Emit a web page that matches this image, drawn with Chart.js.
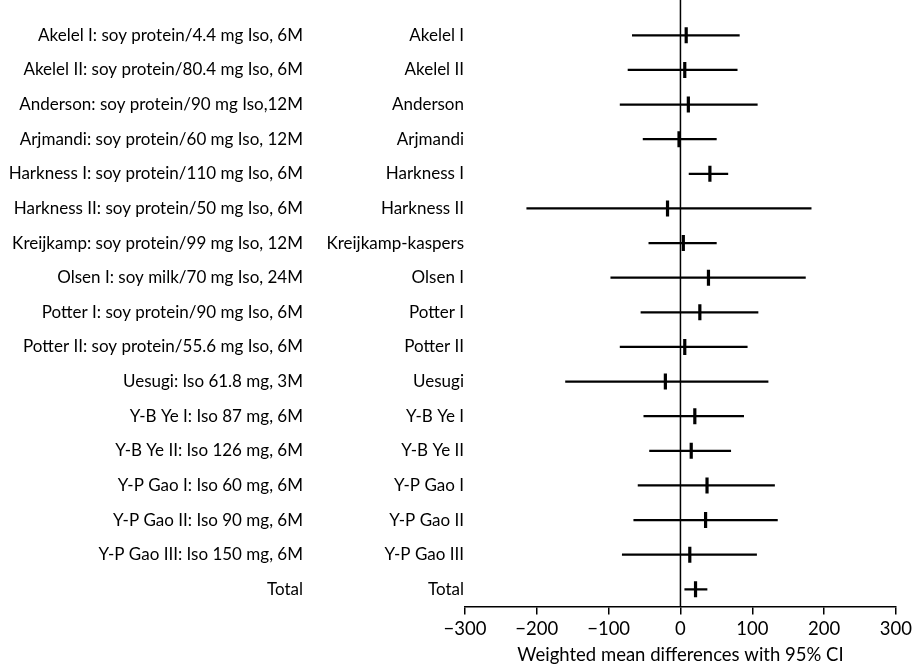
<!DOCTYPE html>
<html>
<head>
<meta charset="utf-8">
<script src="https://cdn.jsdelivr.net/npm/chart.js@4.4.1/dist/chart.umd.min.js"></script>
<style>
  html, body { margin: 0; padding: 0; background: #ffffff; }
  #wrap { width: 915px; height: 672px; position: relative; }
</style>
</head>
<body>
<div id="wrap"><canvas id="c" width="915" height="672"></canvas></div>
<script>
const studies = ["Akelel I", "Akelel II", "Anderson", "Arjmandi", "Harkness I", "Harkness II",
  "Kreijkamp-kaspers", "Olsen I", "Potter I", "Potter II", "Uesugi", "Y-B Ye I", "Y-B Ye II",
  "Y-P Gao I", "Y-P Gao II", "Y-P Gao III", "Total"];
const descriptions = ["Akelel I: soy protein/4.4 mg Iso, 6M", "Akelel II: soy protein/80.4 mg Iso, 6M",
  "Anderson: soy protein/90 mg Iso,12M", "Arjmandi: soy protein/60 mg Iso, 12M",
  "Harkness I: soy protein/110 mg Iso, 6M", "Harkness II: soy protein/50 mg Iso, 6M",
  "Kreijkamp: soy protein/99 mg Iso, 12M", "Olsen I: soy milk/70 mg Iso, 24M",
  "Potter I: soy protein/90 mg Iso, 6M", "Potter II: soy protein/55.6 mg Iso, 6M",
  "Uesugi: Iso 61.8 mg, 3M", "Y-B Ye I: Iso 87 mg, 6M", "Y-B Ye II: Iso 126 mg, 6M",
  "Y-P Gao I: Iso 60 mg, 6M", "Y-P Gao II: Iso 90 mg, 6M", "Y-P Gao III: Iso 150 mg, 6M", "Total"];
const ciLow  = [-67, -73, -84, -52, 12, -214, -44, -97, -55, -84, -160, -51, -43, -59, -65, -81, 6];
const estimate = [8, 6, 11, -2, 41, -18, 4, 39, 27, 6, -21, 20, 15, 37, 35, 13, 21];
const ciHigh = [82, 79, 107, 50, 66, 182, 50, 174, 108, 93, 122, 88, 70, 131, 135, 106, 37];
const xTicks = [-300, -200, -100, 0, 100, 200, 300];
const xTitle = "Weighted mean differences with 95% CI";

const FONT = "Lato";

const zeroLine = {
  id: 'zeroLine',
  beforeDatasetsDraw(chart) {
    const x = chart.scales.x.getPixelForValue(0);
    const ctx = chart.ctx;
    ctx.save();
    ctx.strokeStyle = '#000';
    ctx.lineWidth = 1.5;
    ctx.beginPath();
    ctx.moveTo(x, 0);
    ctx.lineTo(x, chart.chartArea.bottom);
    ctx.stroke();
    ctx.restore();
  }
};

new Chart(document.getElementById('c'), {
  type: 'bar',
  data: {
    labels: studies,
    datasets: [
      {
        type: 'bar',
        data: studies.map((s, i) => [ciLow[i], ciHigh[i]]),
        backgroundColor: '#000',
        borderWidth: 0,
        barThickness: 1.6,
        xAxisID: 'x',
        yAxisID: 'y'
      },
      {
        type: 'scatter',
        data: studies.map((s, i) => ({ x: estimate[i], y: s })),
        pointStyle: 'line',
        rotation: 90,
        radius: 8,
        borderWidth: 3.2,
        borderColor: '#000',
        backgroundColor: '#000',
        xAxisID: 'x',
        yAxisID: 'y'
      }
    ]
  },
  options: {
    indexAxis: 'y',
    responsive: false,
    animation: false,
    layout: { padding: { top: 18, right: 18, bottom: 0, left: 0 } },
    plugins: { legend: { display: false }, tooltip: { enabled: false } },
    scales: {
      x: {
        type: 'linear',
        min: -300,
        max: 300,
        afterBuildTicks(scale) { scale.ticks = xTicks.map(v => ({ value: v })); },
        border: { display: true, color: '#000', width: 1.5 },
        grid: { display: true, drawOnChartArea: false, drawTicks: true, tickLength: 8, color: '#000', lineWidth: 1.5 },
        ticks: {
          color: '#000',
          padding: 3,
          font: { family: FONT, size: 18.5 },
          maxRotation: 0,
          callback: v => String(v).replace('-', '\u2212')
        },
        title: {
          display: true,
          text: xTitle,
          color: '#000',
          font: { family: FONT, size: 18.5 },
          padding: { top: 1, bottom: 6 }
        }
      },
      y: {
        type: 'category',
        position: 'left',
        weight: 0,
        offset: true,
        border: { display: false },
        grid: { display: false, drawTicks: false },
        ticks: { color: '#000', padding: 1, font: { family: FONT, size: 17 } },
        afterFit(scale) { scale.width = 160; }
      },
      y2: {
        type: 'category',
        position: 'left',
        weight: 1,
        offset: true,
        labels: descriptions,
        border: { display: false },
        grid: { display: false, drawTicks: false },
        ticks: { color: '#000', padding: 2, font: { family: FONT, size: 17 } },
        afterFit(scale) { scale.width = 305; }
      }
    }
  },
  plugins: [zeroLine]
});
</script>
</body>
</html>
